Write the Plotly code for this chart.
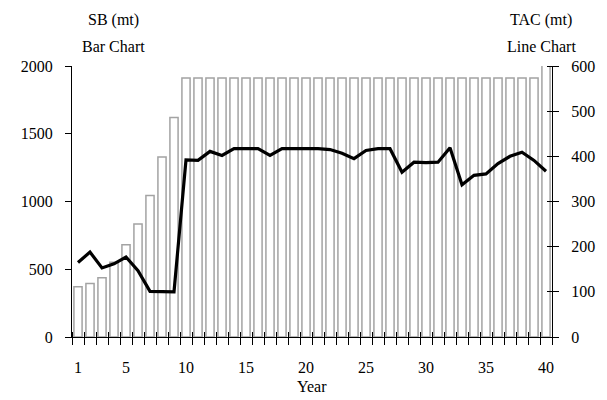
import plotly.graph_objects as go

# Projection years
years = list(range(1, 41))

# Spawning biomass (mt), drawn as outlined bars on the left axis
sb_mt = [370, 395, 437, 552, 680, 834, 1045, 1328, 1620, 1912,
         1912, 1912, 1912, 1912, 1912, 1912, 1912, 1912, 1912, 1912,
         1912, 1912, 1912, 1912, 1912, 1912, 1912, 1912, 1912, 1912,
         1912, 1912, 1912, 1912, 1912, 1912, 1912, 1912, 1912, 2030]

# Total allowable catch (mt), drawn as a line on the right axis
tac_mt = [165, 188, 153, 162, 177, 147, 101, 100, 100, 392,
          391, 411, 402, 417, 417, 417, 402, 417, 417, 417,
          417, 415, 407, 395, 413, 417, 417, 365, 387, 386,
          387, 419, 337, 358, 361, 384, 400, 409, 391, 367]

# Axis tick labels
year_ticks = [1, 5, 10, 15, 20, 25, 30, 35, 40]
sb_ticks = [0, 500, 1000, 1500, 2000]
tac_ticks = [0, 100, 200, 300, 400, 500, 600]

# Tick marks sit on the boundaries between year categories
boundaries = [y - 0.5 for y in years] + [years[-1] + 0.5]

FONT = "Liberation Serif, Times New Roman, DejaVu Serif, serif"
FS = 16
W, H = 607, 400
L, R, T, B = 72, 55, 66, 63
PLOT_W = W - L - R
PLOT_H = H - T - B
TICK_HALF = 6  # crossing ticks reach this far on each side of the axis line
x_range = [years[0] - 0.5, years[-1] + 0.5]

fig = go.Figure()

fig.add_trace(go.Bar(
    x=years, y=sb_mt, name="SB (mt)",
    marker=dict(color="white", line=dict(color="#a3a3a3", width=1.5)),
    xaxis="x", yaxis="y",
))

fig.add_trace(go.Scatter(
    x=years, y=tac_mt, name="TAC (mt)", mode="lines",
    line=dict(color="black", width=3.2),
    xaxis="x2", yaxis="y2",
))

axis_common = dict(showgrid=False, zeroline=False, automargin=False)
tick_style = dict(tickwidth=1.3, tickcolor="black")

fig.update_layout(
    width=W, height=H,
    margin=dict(l=L, r=R, t=T, b=B, autoexpand=False),
    paper_bgcolor="white", plot_bgcolor="white",
    showlegend=False,
    bargap=0.32,
    font=dict(family=FONT, size=FS, color="black"),
    # Year labels and the bottom axis line
    xaxis=dict(
        **axis_common, range=x_range,
        tickmode="array", tickvals=year_ticks, ticks="",
        showline=True, linecolor="black", linewidth=1.3,
        tickfont=dict(size=FS), ticklabelstandoff=16,
    ),
    # Boundary ticks crossing the bottom axis line
    xaxis2=dict(
        **axis_common, range=x_range, overlaying="x",
        anchor="free", position=TICK_HALF / PLOT_H,
        tickmode="array", tickvals=boundaries, ticks="outside",
        ticklen=2 * TICK_HALF + 1, **tick_style,
        showticklabels=False, showline=False,
    ),
    # Left axis: spawning biomass
    yaxis=dict(
        **axis_common, range=[0, 2000],
        tickmode="array", tickvals=sb_ticks, ticks="outside",
        ticklen=6, **tick_style,
        showline=True, linecolor="black", linewidth=1.3,
        mirror=True,
        ticklabelstandoff=9,
    ),
    # Right axis: TAC, ticks crossing the mirrored axis line
    yaxis2=dict(
        **axis_common, range=[0, 600], overlaying="y", side="right",
        anchor="free", position=(PLOT_W - TICK_HALF) / PLOT_W,
        tickmode="array", tickvals=tac_ticks, ticks="outside",
        ticklen=2 * TICK_HALF, **tick_style,
        showline=False,
        ticklabelstandoff=9,
    ),
)


def px_to_paper_x(px):
    return (px - L) / PLOT_W


def px_to_paper_y(py):
    return 1 + (T - py) / PLOT_H


titles = [
    ("SB (mt)", 113, 20),
    ("Bar Chart", 113, 46),
    ("TAC (mt)", 541, 20),
    ("Line Chart", 541, 46),
    ("Year", 312, 386),
]
for text, px, py in titles:
    fig.add_annotation(
        text=text, xref="paper", yref="paper",
        x=px_to_paper_x(px), y=px_to_paper_y(py),
        xanchor="center", yanchor="middle", showarrow=False,
        font=dict(family=FONT, size=FS, color="black"),
    )

fig.write_html("out.html")
